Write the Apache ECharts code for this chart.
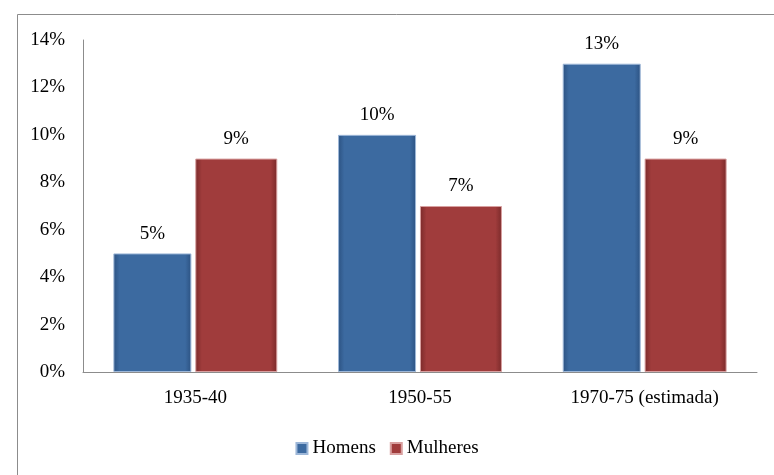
<!DOCTYPE html>
<html><head><meta charset="utf-8">
<script src="https://cdn.jsdelivr.net/npm/echarts@6/dist/echarts.min.js"></script>
<style>html,body{margin:0;padding:0;background:#fff}#c{width:774px;height:475px}</style>
</head><body><div id="c"></div>
<script>
const categories = ['1935-40', '1950-55', '1970-75 (estimada)'];
const homens = [5, 10, 13];
const mulheres = [9, 7, 9];
const yTicks = [0, 2, 4, 6, 8, 10, 12, 14];

const font = 'Liberation Serif, Times New Roman, serif';
function grad(mid, dark) {
  return new echarts.graphic.LinearGradient(0, 0, 1, 0, [
    {offset: 0, color: dark}, {offset: 0.08, color: mid}, {offset: 0.92, color: mid}, {offset: 1, color: dark}
  ]);
}
const chart = echarts.init(document.getElementById('c'), null, {renderer: 'canvas'});
chart.setOption({
  animation: false,
  backgroundColor: '#fff',
  graphic: [{type: 'rect', left: 15, top: 12, shape: {width: 770, height: 470}, style: {fill: 'none', stroke: '#8c8c8c', lineWidth: 1}}],
  grid: {left: 83, right: 17, top: 40, bottom: 103},
  legend: {
    bottom: 12, left: 'center', itemWidth: 11, itemHeight: 11, itemGap: 14,
    icon: 'rect',
    textStyle: {fontFamily: font, fontSize: 19, color: '#000'},
    data: ['Homens', 'Mulheres']
  },
  xAxis: {
    type: 'category', data: categories,
    axisLine: {lineStyle: {color: '#8c8c8c'}},
    axisTick: {show: false},
    axisLabel: {fontFamily: font, fontSize: 19, color: '#000', margin: 17}
  },
  yAxis: {
    type: 'value', min: yTicks[0], max: yTicks[yTicks.length - 1], interval: 2,
    axisLine: {show: true, lineStyle: {color: '#8c8c8c'}},
    axisTick: {show: false},
    splitLine: {show: false},
    axisLabel: {fontFamily: font, fontSize: 19, color: '#000', margin: 18, padding: [7, 0, 0, 0], formatter: v => v + '%'}
  },
  series: [
    {name: 'Homens', type: 'bar', data: homens, barWidth: 78, barGap: '5%',
      itemStyle: {color: grad('#3c6aa0', '#2c5282'), borderColor: '#9db7d8', borderWidth: 1},
      label: {show: true, position: 'top', distance: 10, formatter: p => p.value + '%', fontFamily: font, fontSize: 19, color: '#000'}},
    {name: 'Mulheres', type: 'bar', data: mulheres, barWidth: 82,
      itemStyle: {color: grad('#a03c3c', '#7a2a2a'), borderColor: '#d8a0a0', borderWidth: 1},
      label: {show: true, position: 'top', distance: 10, formatter: p => p.value + '%', fontFamily: font, fontSize: 19, color: '#000'}}
  ]
});
</script></body></html>
